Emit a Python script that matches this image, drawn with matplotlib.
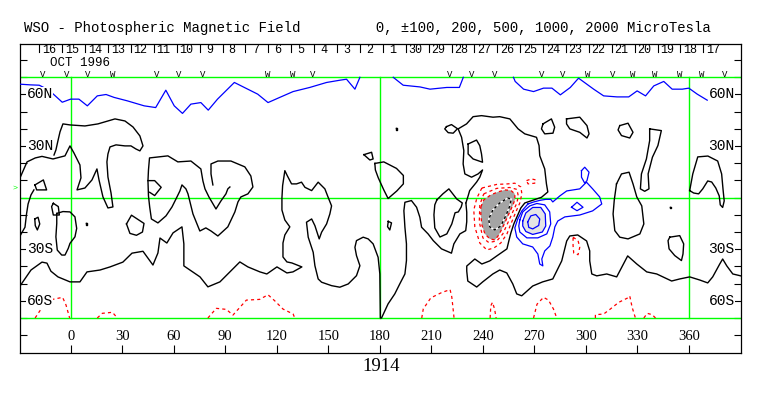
import matplotlib.pyplot as plt
from matplotlib.patches import Polygon

# ---------------- data (longitude, latitude in degrees) ----------------
days = [16, 15, 14, 13, 12, 11, 10, 9, 8, 7, 6, 5, 4, 3, 2, 1,
        30, 29, 28, 27, 26, 25, 24, 23, 22, 21, 20, 19, 18, 17]
obs_lon = [-16.1, -2.2, 10.1, 24.6, 50.2, 63.0, 77.0, 114.8, 129.4, 141.0,
           220.7, 233.5, 246.9, 274.3, 286.5, 301.1, 315.6, 327.2, 340.0,
           354.6, 367.4, 380.8]
obs_mark = "VVVWVVVWWVVVVVVWVWWWWV"

lon_ticks = list(range(0, 361, 30))
lat_labels = [(60, "60N"), (30, "30N"), (-30, "30S"), (-60, "60S")]

# +100 uT contour near the north pole
pos100_north = [
    [(-29.5, 66.0), (-23.4, 65.6), (-18.3, 65.4), (-13.7, 63.1), (-11.5, 61.5),
     (-4.9, 55.5), (0.0, 57.3), (4.8, 57.3), (9.7, 53.4), (15.5, 59.2),
     (20.6, 60.0), (25.3, 58.3), (33.0, 56.3), (42.8, 53.4), (49.5, 52.4),
     (55.4, 62.5), (60.3, 53.4), (65.1, 49.0), (70.0, 54.4), (75.8, 55.3),
     (80.1, 50.9), (85.5, 57.3), (95.3, 67.0), (101.1, 64.1), (108.9, 60.2),
     (114.9, 55.3), (121.7, 58.3), (129.5, 61.7), (139.2, 64.1), (149.0, 67.0),
     (156.7, 68.3), (160.6, 68.9), (165.5, 63.1), (168.4, 70.0)],
    [(187.8, 70.0), (193.6, 65.4), (203.4, 64.4), (209.2, 63.1), (219.0, 64.1),
     (226.3, 64.1), (228.6, 70.0)],
    [(257.8, 70.0), (258.8, 67.6), (263.7, 63.1), (269.5, 61.7), (275.3, 63.7),
     (280.2, 63.7), (285.1, 59.8), (290.9, 64.1), (295.7, 69.5), (304.5, 63.1),
     (310.3, 59.2), (318.1, 58.6), (324.9, 58.6), (329.8, 62.1), (334.7, 59.2),
     (339.5, 65.0), (345.3, 67.6), (350.2, 63.1), (356.1, 63.1), (359.9, 63.7),
     (364.8, 60.2), (370.6, 56.7)],
]

# -100 uT contours near the south pole and small negative patches
neg100 = [
    [(-20.7, -70.0), (-18.3, -66.4), (-14.8, -61.3), (-10.6, -59.2), (-4.7, -58.0),
     (-2.7, -62.5), (-0.8, -69.3), (-0.6, -70.0)],
    [(15.5, -70.0), (18.4, -67.3), (24.3, -66.7), (27.2, -70.0)],
    [(79.9, -70.0), (84.8, -64.4), (90.6, -65.0), (94.5, -68.3), (102.3, -59.6),
     (110.0, -59.2), (114.9, -56.5), (118.8, -60.0), (123.6, -64.8), (129.5, -67.7),
     (130.5, -70.0)],
    [(204.4, -70.0), (205.3, -64.7), (209.7, -58.3), (216.0, -55.2), (220.9, -53.5),
     (221.9, -57.8), (222.6, -64.2), (223.2, -70.0)],
    [(244.2, -70.0), (244.6, -62.9), (245.6, -60.9), (246.8, -64.8), (247.7, -70.0)],
    [(269.5, -70.0), (271.5, -62.0), (275.3, -58.0), (278.2, -59.6), (281.1, -64.8),
     (283.0, -70.0)],
    [(305.5, -70.0), (305.5, -68.1), (310.3, -67.7), (314.2, -64.8), (319.1, -60.9),
     (324.0, -58.5), (325.5, -57.2), (326.9, -63.8), (328.8, -70.0)],
    [(333.7, -70.0), (335.7, -67.3), (338.6, -68.1), (340.5, -70.0)],
    [(265.4, 9.9), (268.3, 10.9), (270.8, 10.3), (270.2, 8.4), (266.3, 8.0), (265.4, 9.9)],
    [(292.5, -23.0), (295.4, -25.0), (296.4, -28.9), (295.4, -33.2), (292.9, -32.3),
     (292.5, -27.9), (292.5, -23.0)],
    [(239.4, 5.6), (248.1, 7.7), (254.5, 8.0), (258.6, 8.4), (262.1, 6.2), (262.7, 2.2),
     (261.5, -3.1), (259.2, -8.3), (256.3, -15.3), (254.0, -21.1), (250.4, -26.4),
     (246.4, -29.3), (242.3, -30.4), (238.2, -26.4), (235.3, -17.0), (234.7, -7.2),
     (236.5, -0.2), (239.4, 5.6)],
]
neg200 = [
    [(240.5, 2.2), (248.1, 5.4), (255.7, 5.9), (259.8, 4.8), (260.6, 1.0), (259.8, -3.1),
     (257.4, -8.3), (254.5, -14.7), (251.6, -21.1), (248.1, -25.2), (243.4, -26.1),
     (240.0, -23.4), (237.9, -14.1), (238.2, -4.2), (240.5, 2.2)],
]
neg500 = [
    [(238.8, -5.4), (240.5, -1.3), (244.6, 1.6), (248.7, 3.3), (252.8, 4.5), (256.3, 4.2),
     (258.6, 2.2), (258.6, -1.3), (257.5, -4.3), (255.1, -9.5), (252.2, -15.9),
     (249.3, -21.7), (247.0, -24.6), (244.0, -24.0), (241.2, -21.1), (239.4, -15.9),
     (238.8, -10.1)],
]
neg1000 = [
    [(245.8, -7.2), (243.4, -12.4), (244.0, -17.0), (246.9, -18.8), (250.4, -16.5),
     (253.3, -10.6), (255.7, -4.8), (256.5, -0.8), (254.5, -0.2), (249.8, -3.1),
     (245.8, -7.2)],
]

# positive contours of the active region and small positive islands
pos100 = [
    [(266.2, -3.7), (269.6, -2.5), (273.1, -1.6), (276.6, -1.0), (279.5, -1.0),
     (280.7, -2.5), (284.8, 1.0), (288.8, 3.9), (296.4, 5.1), (300.3, 9.0),
     (303.9, 5.1), (308.0, 0.4), (309.2, -3.7), (303.9, -7.7), (296.4, -10.1),
     (287.7, -11.2), (283.6, -13.6), (281.9, -17.0), (280.7, -22.9), (279.0, -28.1),
     (276.0, -31.0), (274.3, -35.7), (274.9, -39.7), (273.1, -38.6), (272.0, -32.8),
     (269.0, -28.7), (263.2, -26.9), (259.7, -22.9), (258.6, -17.6), (260.3, -12.4),
     (262.7, -7.7), (266.2, -3.7)],
    [(291.6, -5.6), (294.8, -2.7), (298.3, -5.6), (294.8, -7.6), (291.6, -5.6)],
    [(297.4, 15.7), (299.3, 17.7), (301.8, 14.8), (300.6, 9.9), (299.3, 8.4),
     (297.4, 11.9), (297.4, 15.7)],
]
pos200 = [
    [(261.5, -13.0), (263.2, -8.3), (267.3, -4.8), (271.4, -3.4), (276.0, -4.2),
     (278.9, -8.3), (279.5, -15.3), (277.2, -21.1), (272.0, -23.4), (265.6, -23.4),
     (261.5, -20.0), (260.9, -16.5), (261.5, -13.0)],
]
pos500 = [
    [(263.2, -13.6), (265.0, -8.9), (269.0, -5.7), (273.7, -5.7), (276.3, -9.5),
     (276.6, -16.5), (274.6, -20.0), (269.0, -21.4), (265.0, -19.7), (263.2, -16.5)],
]
pos1000 = [
    [(266.1, -14.1), (267.9, -10.6), (270.8, -9.8), (273.1, -12.4), (272.5, -16.2),
     (269.0, -18.2), (266.7, -17.3), (266.1, -14.1)],
]

# neutral line (0 uT)
neutral = [
    [(-29.5, 11.5), (-25.4, 20.8), (-20.6, 23.1), (-16.7, 24.0), (-10.3, 22.5),
     (-3.3, 24.3), (-0.4, 30.1), (1.9, 26.0), (5.4, 19.0), (6.0, 11.5), (3.7, 4.5),
     (8.3, 5.6), (12.4, 10.3), (15.3, 16.7), (16.5, 10.3), (18.8, 0.4), (21.7, -6.0),
     (24.6, -5.4), (23.5, 2.7), (21.7, 12.0), (21.1, 20.8), (21.7, 25.4), (22.9, 29.5),
     (26.4, 30.7), (31.6, 30.1), (35.1, 30.1), (38.0, 28.3), (40.3, 27.2), (42.1, 30.1),
     (40.3, 35.9), (36.3, 41.1), (31.6, 44.6), (25.8, 45.8), (15.9, 42.9), (8.3, 41.7),
     (-0.4, 42.3), (-4.5, 42.9), (-6.2, 38.3), (-7.4, 33.1), (-8.6, 27.7), (-9.7, 24.8)],
    [(-29.5, -22.3), (-26.6, -17.2), (-25.7, -9.5), (-24.8, -3.7), (-23.1, 1.6),
     (-21.4, 4.5)],
    [(-20.8, 7.4), (-15.9, 10.3), (-14.0, 4.5), (-19.8, 4.5), (-20.8, 7.4)],
    [(-20.9, -12.4), (-19.0, -11.4), (-18.0, -15.3), (-19.4, -18.8), (-20.6, -16.3),
     (-20.9, -12.4)],
    [(-10.1, -3.3), (-7.2, -5.2), (-6.6, -10.1), (-10.1, -10.1), (-11.1, -5.2),
     (-10.1, -3.3)],
    [(-8.1, -9.2), (-4.5, -8.1), (-0.4, -8.3), (2.5, -11.2), (3.5, -17.9), (2.5, -22.8),
     (-0.4, -26.6), (-1.4, -29.5), (-3.3, -33.4), (-5.2, -33.4), (-7.8, -30.5),
     (-8.6, -22.8), (-8.1, -15.0), (-8.1, -9.2)],
    [(32.5, -15.3), (35.4, -10.2), (42.7, -15.0), (41.8, -20.0), (38.3, -21.9),
     (34.5, -20.8), (32.5, -15.3)],
    [(8.7, -15.0), (9.7, -15.0), (9.7, -15.8), (8.7, -15.8), (8.7, -15.0)],
    [(92.7, 6.2), (91.5, 5.1), (90.4, 2.2), (87.5, -1.9), (84.6, -6.6), (80.5, 0.4),
     (78.2, 5.1), (77.0, 9.7), (75.8, 16.7), (70.0, 21.3), (62.4, 20.8), (56.6, 24.3),
     (45.9, 23.1), (45.3, 16.1), (45.0, 9.7), (45.3, 1.0), (46.0, -5.4), (47.0, -12.4),
     (50.8, -14.7), (55.5, -10.6), (59.0, -5.4), (61.3, -0.8), (63.6, 3.9), (64.8, 7.4),
     (67.1, 5.1), (68.3, 2.2), (71.2, -9.5), (75.2, -19.4), (78.7, -17.6), (81.7, -19.4),
     (85.7, -22.3), (91.5, -17.0), (95.6, -8.3), (97.4, -2.5), (99.1, 0.4), (103.2, 2.2),
     (106.1, 6.2), (104.9, 12.6), (101.4, 17.9), (93.3, 21.3), (85.7, 21.3), (81.7, 19.6),
     (81.7, 13.8), (82.8, 7.4)],
    [(45.0, 9.9), (48.9, 9.9), (52.7, 6.0), (48.9, 1.2), (46.0, 3.1)],
    [(-29.5, -51.4), (-23.1, -42.1), (-16.7, -37.5), (-13.8, -38.1), (-11.5, -42.8),
     (-7.4, -46.1), (-0.4, -49.0), (5.4, -49.0), (9.5, -43.2), (17.1, -42.1),
     (22.9, -40.3), (30.4, -37.5), (35.7, -32.3), (42.1, -31.2), (47.9, -39.2),
     (50.8, -32.2), (52.0, -23.5), (56.0, -26.4), (59.6, -20.5), (64.8, -17.0),
     (65.9, -26.9), (65.9, -39.7), (75.3, -46.1), (79.9, -51.9), (86.9, -49.0),
     (98.5, -37.4), (103.2, -40.3), (110.2, -43.2), (114.2, -44.4), (120.1, -40.3),
     (125.9, -43.8), (129.4, -43.2), (134.6, -40.3), (128.8, -38.0), (125.9, -37.4),
     (123.6, -34.5), (123.6, -26.4), (124.7, -21.7), (127.6, -17.0), (124.7, -13.0),
     (123.0, -7.2), (123.0, -0.2), (123.4, 7.0), (124.7, 15.7), (126.1, 12.8),
     (128.6, 8.0), (131.5, 8.0), (134.4, 9.0), (136.4, 6.0), (140.3, 4.1),
     (144.1, 9.0), (148.0, 5.1), (149.9, 0.2), (151.9, -4.8), (150.9, -9.5),
     (149.0, -15.3), (146.1, -20.1), (144.7, -24.0), (142.2, -16.3), (140.3, -12.4),
     (137.3, -14.3), (138.3, -23.0), (141.2, -31.8), (142.2, -39.6), (144.1, -47.3),
     (146.1, -49.2), (151.9, -51.2), (156.7, -52.1), (161.6, -50.2), (166.4, -45.4),
     (168.4, -39.6), (166.4, -33.7), (165.5, -28.9), (166.4, -25.0), (170.3, -23.0),
     (173.2, -24.0), (176.1, -26.9), (179.0, -34.7), (180.0, -44.4), (180.3, -70.0),
     (181.0, -70.0), (184.8, -61.8), (188.7, -56.0), (191.6, -50.2), (194.6, -44.4),
     (195.5, -36.6), (195.5, -26.9), (194.6, -17.2), (194.0, -7.6), (194.6, -2.7),
     (198.4, -1.7), (201.4, -5.6), (203.3, -11.4), (204.3, -17.2), (208.1, -21.1),
     (211.1, -25.0), (215.9, -29.8), (221.7, -32.3), (223.1, -26.9), (226.6, -21.1),
     (230.0, -19.2), (230.6, -14.0), (230.6, -8.5), (230.1, -3.1)],
    [(184.9, -13.8), (186.8, -14.7), (185.8, -18.8), (184.5, -16.9), (184.9, -13.8)],
    [(170.7, 25.0), (175.2, 26.4), (176.1, 22.5), (174.2, 21.9), (170.7, 25.0)],
    [(177.1, 19.9), (182.3, 20.8), (189.7, 17.0), (193.7, 12.9), (193.7, 8.0),
     (189.9, 3.9), (184.8, -0.5), (182.3, 4.5), (179.1, 11.5), (177.4, 16.1),
     (177.1, 19.9)],
    [(189.2, 40.3), (190.2, 40.3), (190.2, 39.5), (189.2, 39.5), (189.2, 40.3)],
    [(218.8, 41.3), (221.7, 42.5), (225.2, 40.1), (222.7, 37.5), (219.8, 37.8),
     (217.8, 40.0), (218.8, 41.3)],
    [(213.2, -1.3), (216.7, 2.2), (220.2, 5.1), (224.8, -0.8), (228.0, -3.1),
     (227.4, -5.4), (225.7, -8.3), (223.8, -8.8), (221.9, -15.3), (219.0, -21.1),
     (215.0, -22.9), (212.0, -17.6), (211.5, -10.0), (212.0, -4.2), (213.2, -1.3)],
    [(231.4, 31.2), (236.3, 33.5), (238.2, 30.2), (239.2, 25.4), (239.8, 20.6),
     (234.3, 22.5), (231.4, 25.4), (231.4, 31.2)],
    [(230.1, -3.1), (231.4, 1.0), (232.3, 4.1), (236.3, 9.0), (238.2, 11.9), (239.8, 16.1),
     (237.2, 13.8), (233.4, 11.9), (229.5, 13.8), (228.5, 19.6), (228.9, 27.3),
     (227.6, 35.1), (225.6, 40.0), (230.5, 42.9), (234.3, 47.1), (239.2, 47.7),
     (245.9, 46.8), (249.8, 47.1), (255.7, 45.8), (260.5, 40.0), (264.4, 37.1),
     (271.2, 35.1), (272.7, 30.3), (273.1, 24.4), (276.0, 16.7), (277.0, 8.0),
     (277.8, 3.3), (274.1, 0.2), (268.5, -1.7), (264.4, -3.1), (262.1, -6.0),
     (260.3, -10.1), (258.0, -15.3), (256.3, -20.5), (255.1, -25.2), (254.0, -29.8),
     (248.1, -33.9), (244.0, -36.8), (239.4, -38.6), (235.3, -35.7), (230.6, -39.8),
     (230.6, -42.7), (231.2, -48.5), (236.4, -52.0), (239.9, -49.0), (245.8, -44.4),
     (249.8, -42.1), (253.9, -43.8), (257.4, -50.2), (259.7, -56.0), (262.6, -57.1),
     (269.0, -51.4), (274.8, -49.0), (280.7, -47.3), (285.9, -36.8), (288.8, -25.2),
     (290.6, -22.3), (295.2, -21.7), (300.4, -25.2), (302.2, -31.0), (302.2, -36.8),
     (303.4, -44.4), (306.3, -45.5), (312.1, -44.4), (317.9, -46.1), (324.3, -33.9),
     (329.6, -38.6), (335.4, -43.2), (341.2, -44.4), (349.9, -48.5), (354.6, -47.3),
     (360.4, -46.1), (366.2, -47.9), (370.9, -49.6), (373.8, -46.1), (377.9, -38.6),
     (379.6, -35.7), (382.0, -39.7), (385.5, -44.4), (390.1, -45.5)],
    [(275.0, 42.9), (279.9, 45.8), (281.8, 41.0), (280.8, 37.5), (276.0, 37.1),
     (274.1, 40.0), (275.0, 42.9)],
    [(288.7, 45.8), (296.4, 46.8), (300.6, 41.9), (301.8, 37.1), (300.6, 34.7),
     (296.4, 38.0), (290.6, 40.0), (288.7, 42.9), (288.7, 45.8)],
    [(319.7, 41.9), (324.5, 43.3), (327.4, 38.0), (325.5, 34.7), (320.7, 36.1),
     (318.7, 39.4), (319.7, 41.9)],
    [(337.1, 40.0), (343.9, 39.0), (341.9, 30.3), (338.7, 23.5), (336.2, 13.8),
     (336.7, 5.1), (334.2, 3.7), (331.7, 5.1), (332.3, 13.8), (335.2, 22.5),
     (337.1, 33.2), (337.1, 40.0)],
    [(360.4, 4.1), (362.2, 13.8), (365.1, 23.7), (371.0, 24.2), (376.7, 21.3),
     (379.0, 13.8), (379.9, 3.9), (380.5, -1.9), (379.6, -5.7), (378.2, -4.2),
     (377.6, 1.0), (375.6, 5.6), (373.2, 9.1), (370.9, 9.7), (368.0, 5.1),
     (365.6, 2.2), (362.7, 2.7), (360.4, 4.1)],
    [(317.8, 8.0), (320.7, 13.8), (325.1, 14.8), (327.4, 8.0), (329.6, 0.4),
     (332.5, -4.8), (333.7, -15.3), (331.4, -21.1), (324.5, -24.0), (319.7, -23.0),
     (316.8, -19.2), (315.8, -9.5), (316.5, -1.3), (317.8, 8.0)],
    [(348.8, -23.0), (354.6, -22.1), (356.9, -26.9), (356.5, -32.8), (355.6, -36.6),
     (351.7, -33.7), (348.4, -29.8), (347.8, -25.0), (348.8, -23.0)],
    [(348.7, -5.2), (349.7, -5.2), (349.7, -6.0), (348.7, -6.0), (348.7, -5.2)],
]

# ---------------- figure ----------------
W, H = 763, 396
GREEN = "#00ff00"
MONO = "Liberation Mono"
SERIF = "Liberation Serif"

fig = plt.figure(figsize=(W / 100, H / 100), dpi=100)
fig.patch.set_facecolor("white")
x0, x1, y0, y1 = 20.0, 740.7, 44.3, 352.7
ax = fig.add_axes([x0 / W, 1 - y1 / H, (x1 - x0) / W, (y1 - y0) / H])
ax.set_xlim(-29.5, 390.1)
ax.set_ylim(-90.2, 89.2)
for s in ax.spines.values():
    s.set_linewidth(0.9)
ax.set_yticks(range(-80, 90, 10))
ax.set_xticks(lon_ticks)
ax.tick_params(axis="y", direction="in", length=5, width=0.8, left=True, right=True,
               labelleft=False, labelright=False)
ax.tick_params(axis="x", direction="in", length=5.5, width=0.8, bottom=True, top=False,
               labelbottom=False)

# grid lines
for la in (70, 0, -70):
    ax.axhline(la, color=GREEN, lw=1.0, zorder=2)
for lo in (0, 180, 360):
    ax.plot([lo, lo], [-70, 70], color=GREEN, lw=1.0, zorder=2)


def draw(curves, **kw):
    for c in curves:
        xs = [p[0] for p in c]
        ys = [p[1] for p in c]
        ax.plot(xs, ys, zorder=4, **kw)


# shaded strong-field areas
for c in neg500:
    ax.add_patch(Polygon(c, closed=True, fc="#a4a4a4", ec="none", zorder=3))
for c in pos500:
    ax.add_patch(Polygon(c, closed=True, fc="#e4e4e4", ec="none", zorder=3))

draw(neutral, color="black", lw=1.0)
draw(pos100_north, color="#0000ff", lw=0.9)
draw(pos100, color="#0000ff", lw=0.9)
draw(pos200, color="#0000ff", lw=0.9)
draw([c + [c[0]] for c in pos500], color="#0000ff", lw=0.9)
draw(pos1000, color="#0000ff", lw=0.9)
draw(neg100, color="#ff0000", lw=0.9, ls=(0, (2.5, 2.5)))
draw(neg200, color="#ff0000", lw=0.9, ls=(0, (2.5, 2.5)))
draw([c + [c[0]] for c in neg500], color="#ff0000", lw=0.9, ls=(0, (2.5, 2.5)))
draw(neg1000, color="white", lw=1.0)
draw(neg1000, color="black", lw=1.0, ls=(0, (2, 2)))

# latitude labels (inside the frame, both sides)
for la, txt in lat_labels:
    ax.text(-25.6, la, txt, ha="left", va="center", family=MONO, fontsize=10.5,
            bbox=dict(fc="white", ec="none", pad=0.3), zorder=5)
    ax.text(386.6, la, txt, ha="right", va="center", family=MONO, fontsize=10.5,
            bbox=dict(fc="white", ec="none", pad=0.3), zorder=5)

# longitude labels in the lower strip
for lo in lon_ticks:
    ax.text(lo, -80.6, str(lo), ha="center", va="center", family=SERIF, fontsize=10.5)

# upper strip: day numbers, month label, observation marks (baselines in lat units)
day_lon0, day_step = -12.6, 13.33
for i, d in enumerate(days):
    lo = day_lon0 + i * day_step
    ax.text(lo, 84.0, str(d), ha="center", va="baseline", family=MONO, fontsize=8.5)
    ax.plot([lo - 5.6, lo - 5.6], [89.2, 85.0], color="black", lw=0.8)
ax.text(-12.0, 76.5, "OCT 1996", ha="left", va="baseline", family=MONO, fontsize=9)
for lo, m in zip(obs_lon, obs_mark):
    ax.text(lo, 70.2, m, ha="center", va="baseline", family=MONO, fontsize=6.5)

ax.text(-32.5, 5.8, ">", color=GREEN, ha="center", va="center", family=MONO,
        fontsize=6, clip_on=False)

fig.text(24 / W, 1 - 27.7 / H,
         "WSO - Photospheric Magnetic Field         0, \u00b1100, 200, 500, 1000, 2000 MicroTesla",
         family=MONO, fontsize=10.1, va="center", ha="left")
fig.text(380.7 / W, 1 - 366.5 / H, "1914", family=SERIF, fontsize=13.5,
         ha="center", va="center")

fig.savefig("out.png", dpi=100)
